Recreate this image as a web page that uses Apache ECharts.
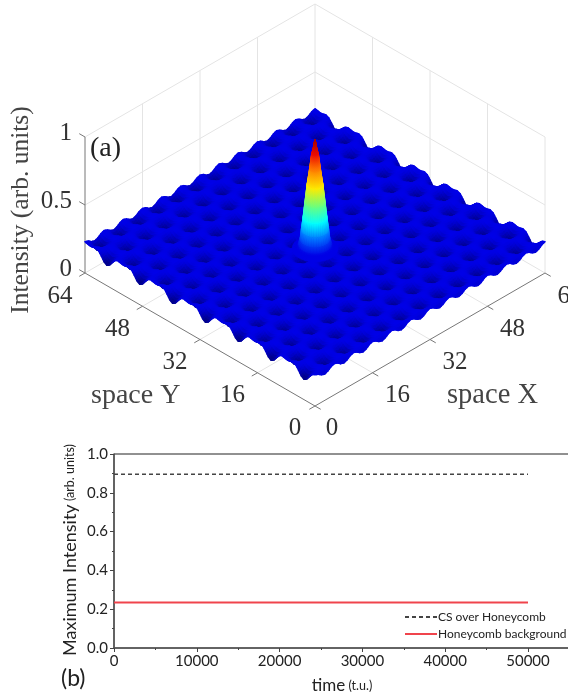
<!DOCTYPE html>
<html><head><meta charset="utf-8">
<style>html,body{margin:0;padding:0;background:#fff;overflow:hidden}#c{width:568px;height:700px;filter:blur(0.4px)}</style>
<script src="https://cdn.jsdelivr.net/npm/echarts@6/dist/echarts.min.js"></script>
</head><body><div id="c"></div>
<script>
// ---------- panel (a) values ----------
const spaceTicks = [0, 16, 32, 48, 64];
const intensityTicks = [0, 0.5, 1];
const gridTicks = [16, 32, 48];
// one repeat of the honeycomb background, intensity at 6 x 12 samples
const honeycombCell = [
  [.150,.168,.203,.221,.203,.168],
  [.164,.179,.210,.225,.210,.179],
  [.194,.203,.221,.230,.221,.203],
  [.221,.221,.221,.221,.221,.221],
  [.230,.221,.203,.194,.203,.221],
  [.225,.210,.179,.164,.179,.210],
  [.221,.203,.168,.150,.168,.203],
  [.225,.210,.179,.164,.179,.210],
  [.230,.221,.203,.194,.203,.221],
  [.221,.221,.221,.221,.221,.221],
  [.194,.203,.221,.230,.221,.203],
  [.164,.179,.210,.225,.210,.179]
];
const peakCentre = [32, 32];
const peakRadius = [0, .15, .35, .69, 1.1, 1.57, 2.0, 2.36, 2.7, 2.95, 3.3, 3.8, 4.5];
const peakHeight = [.985, .96, .92, .87, .76, .65, .52, .41, .32, .25, .21, .19, .18];
// ---------- panel (b) values ----------
const timeValues = [0, 50000];
const csValues = [0.895, 0.895];
const honeycombValues = [0.235, 0.235];

// ---------- projection of panel (a) onto hidden value axes ----------
const K = 65.45;
const proj = (x, y, z) => [x - y, x + y + z * K];
const cols = 72, rows = 84, offI = 3, offJ = 2, sub = 2;
const dx = 64 / cols, dy = 64 / rows;
const Hg = (i, j) => honeycombCell[(j + offJ + 1200) % 12][(i + offI + 600) % 6];
const vShade=(i,j)=>{
  const h=Hg(i,j);
  const a=(Hg(i+1,j)-Hg(i-1,j))/2/dx, b=(Hg(i,j+1)-Hg(i,j-1))/2/dy;
  const v=230-Math.max(0,(.215-h))*1600+(a+b)*250;
  return Math.min(232,Math.max(125,v));
};
const bil=(f,u,v)=>{const i=Math.floor(u),j=Math.floor(v),s=u-i,t=v-j;
  return f(i,j)*(1-s)*(1-t)+f(i+1,j)*s*(1-t)+f(i,j+1)*(1-s)*t+f(i+1,j+1)*s*t;};

const stops = [[0,[0,0,225]],[.2,[0,0,230]],[.3,[0,110,255]],[.41,[0,255,255]],[.53,[110,255,120]],[.65,[255,235,0]],[.78,[255,120,0]],[.88,[235,10,0]],[1,[150,0,0]]];
function jet(z){
  for(let k=1;k<stops.length;k++){ if(z<=stops[k][0]){
    const a=stops[k-1],b=stops[k],t=Math.max(0,(z-a[0])/(b[0]-a[0]));
    const c=a[1].map((v,n)=>Math.round(v+(b[1][n]-v)*t));
    return `rgb(${c})`; } }
  return 'rgb(150,0,0)';
}
// surface cells, far ones first
const cells=[];
for(let i=0;i<cols*sub;i++) for(let j=0;j<rows*sub;j++) cells.push([i,j]);
cells.sort((a,b)=>(b[0]*dx+b[1]*dy)-(a[0]*dx+a[1]*dy));
// peak mesh
const sectors=36, peakCells=[];
for(let k=0;k<peakRadius.length-1;k++) for(let m=0;m<sectors;m++) peakCells.push([k,m]);
const peakPt=(k,m)=>{const t=m/sectors*2*Math.PI;return [peakCentre[0]+peakRadius[k]*Math.cos(t),peakCentre[1]+peakRadius[k]*Math.sin(t),peakHeight[k]];};
const pk=(c)=>{const t=(c[1]+.5)/sectors*2*Math.PI,r=(peakRadius[c[0]]+peakRadius[c[0]+1])/2;return (Math.cos(t)+Math.sin(t))*r;};
peakCells.sort((a,b)=>pk(b)-pk(a));

// wall, floor and axis lines: [x1,y1,z1,x2,y2,z2,dark]
const lines=[];
gridTicks.forEach(t=>{
  lines.push([t,0,0,t,64,0,0],[0,t,0,64,t,0,0],[t,64,0,t,64,1,0],[64,t,0,64,t,1,0]);
});
[0,.5,1].forEach(z=>lines.push([0,64,z,64,64,z,0],[64,64,z,64,0,z,0]));
lines.push([64,64,0,64,64,1,0],[64,0,0,64,0,1,0]);
lines.push([0,0,0,64,0,0,1],[0,0,0,0,64,0,1],[0,64,0,0,64,1,1]);
spaceTicks.forEach(t=>lines.push([t,0,0,t,-1.6,0,1],[0,t,0,-1.6,t,0,1]));
intensityTicks.forEach(z=>lines.push([0,64,z,0,65.6,z,1]));

const chart=echarts.init(document.getElementById('c'),null,{renderer:'canvas',width:568,height:700});
const serif='"Liberation Serif"', sans='Lato';
const tickText=[];
spaceTicks.forEach(t=>{tickText.push([0,t,0,-25,23,String(t)]);tickText.push([t,0,0,25,23,String(t)]);});
tickText[0][3]=-20;tickText[1][3]=17;
tickText[0][4]=22;tickText[1][4]=22;

chart.setOption({
  animation:false,
  grid:[
    {left:85,width:460,top:4,height:402,outerBoundsMode:'none'},
    {left:114,width:460,top:454,height:194,show:true,borderColor:'#222',borderWidth:1,backgroundColor:'transparent',outerBoundsMode:'none'}
  ],
  xAxis:[
    {gridIndex:0,type:'value',min:-64,max:64,show:false},
    {gridIndex:1,type:'value',min:0,max:55556,interval:10000,
     axisLine:{show:true,onZero:false,lineStyle:{color:'#555',width:1.5}},
     axisTick:{show:true,length:4,lineStyle:{color:'#444'}},
     minorTick:{show:true,splitNumber:2,length:2,lineStyle:{color:'#444'}},
     splitLine:{show:false},
     axisLabel:{color:'#222',fontFamily:sans,fontSize:15,margin:6,formatter:v=>v%10000===0?String(v):''}}
  ],
  yAxis:[
    {gridIndex:0,type:'value',min:0,max:193.45,show:false},
    {gridIndex:1,type:'value',min:0,max:1,interval:.2,
     axisLine:{show:true,lineStyle:{color:'#555',width:1.5}},
     axisTick:{show:true,length:4,lineStyle:{color:'#444'}},
     minorTick:{show:true,splitNumber:2,length:2,lineStyle:{color:'#444'}},
     splitLine:{show:false},
     axisLabel:{color:'#222',fontFamily:sans,fontSize:15,margin:6,formatter:v=>v.toFixed(1)}}
  ],
  legend:{left:404,top:611,orient:'vertical',itemWidth:32,itemHeight:8,itemGap:5,padding:0,
    data:['CS over Honeycomb','Honeycomb background'],
    itemStyle:{color:'transparent',opacity:0},
    textStyle:{fontFamily:sans,fontSize:12,color:'#222',padding:[0,0,0,-4]}},
  graphic:[
    {type:'text',rotation:Math.PI/2,silent:true,x:21,y:210,
      style:{text:'Intensity (arb. units)',font:'25.5px '+serif,fill:'#444',align:'center',verticalAlign:'middle'}},
    {type:'text',x:90,y:135,style:{text:'(a)',font:'28px '+serif,fill:'#222'}},
    {type:'text',x:91,y:382,style:{text:'space Y',font:'28px '+serif,fill:'#444'}},
    {type:'text',x:447,y:381,style:{text:'space X',font:'28.5px '+serif,fill:'#444'}},
    {type:'text',x:61,y:667,style:{text:'(b)',font:'23px '+sans,fill:'#222'}},
    {type:'text',x:70,y:550,rotation:Math.PI/2,
      style:{text:'{a|Maximum Intensity} {b|(arb. units)}',align:'center',verticalAlign:'middle',
        rich:{a:{font:'18px '+sans,fill:'#222'},b:{font:'12.5px '+sans,fill:'#222'}}}},
    {type:'text',x:342,y:686,
      style:{text:'{a|time} {b|(t.u.)}',align:'center',verticalAlign:'middle',
        rich:{a:{font:'17px '+sans,fill:'#222'},b:{font:'12.5px '+sans,fill:'#222'}}}}
  ],
  series:[
    {type:'custom',name:'lines',coordinateSystem:'cartesian2d',xAxisIndex:0,yAxisIndex:0,silent:true,clip:false,
     data:lines.map((l,n)=>[n,0]),encode:{x:0,y:1},
     renderItem:(p,api)=>{const l=lines[p.dataIndex];
       const a=api.coord(proj(l[0],l[1],l[2])),b=api.coord(proj(l[3],l[4],l[5]));
       return {type:'line',shape:{x1:a[0],y1:a[1],x2:b[0],y2:b[1]},
         style:{stroke:l[6]?'#777':'#e4e4e4',lineWidth:1}};}},
    {type:'custom',name:'surface',coordinateSystem:'cartesian2d',xAxisIndex:0,yAxisIndex:0,silent:true,clip:false,
     progressive:0,data:cells,encode:{x:0,y:1},
     renderItem:(p,api)=>{const c=cells[p.dataIndex],i=c[0]/sub,j=c[1]/sub,h=1/sub;
       const pts=[[i,j],[i+h,j],[i+h,j+h],[i,j+h]].map(q=>api.coord(proj(q[0]*dx,q[1]*dy,bil(Hg,q[0],q[1]))));
       const b=Math.round(bil(vShade,i+h/2,j+h/2));
       const col=`rgb(0,0,${b})`;
       return {type:'polygon',shape:{points:pts},style:{fill:col,stroke:col,lineWidth:1.6,lineJoin:'round'}};}},
    {type:'custom',name:'peak',coordinateSystem:'cartesian2d',xAxisIndex:0,yAxisIndex:0,silent:true,clip:false,
     progressive:0,data:peakCells,encode:{x:0,y:1},
     renderItem:(p,api)=>{const c=peakCells[p.dataIndex],k=c[0],m=c[1];
       const pts=[peakPt(k,m),peakPt(k,m+1),peakPt(k+1,m+1),peakPt(k+1,m)].map(q=>api.coord(proj(q[0],q[1],q[2])));
       const zt=peakHeight[k],zb=peakHeight[k+1],st=[];
       for(let n=0;n<=4;n++)st.push({offset:n/4,color:jet(zt+(zb-zt)*n/4)});
       const g=new echarts.graphic.LinearGradient(0,0,0,1,st);
       return {type:'polygon',shape:{points:pts},style:{fill:g,stroke:g,lineWidth:.6}};}},
    {type:'custom',name:'tickText',coordinateSystem:'cartesian2d',xAxisIndex:0,yAxisIndex:0,silent:true,clip:false,
     data:tickText.map((t,n)=>[n,0]),encode:{x:0,y:1},
     renderItem:(p,api)=>{const t=tickText[p.dataIndex],a=api.coord(proj(t[0],t[1],t[2]));
       return {type:'text',x:a[0]+t[3],y:a[1]+t[4],style:{text:t[5],font:'25px '+serif,fill:'#333',align:'center',verticalAlign:'middle'}};}},
    {type:'custom',name:'zText',coordinateSystem:'cartesian2d',xAxisIndex:0,yAxisIndex:0,silent:true,clip:false,
     data:intensityTicks.map((t,n)=>[n,0]),encode:{x:0,y:1},
     renderItem:(p,api)=>{const z=intensityTicks[p.dataIndex],a=api.coord(proj(0,64,z));
       return {type:'text',x:a[0]-13,y:a[1]-4,style:{text:String(z),font:'25px '+serif,fill:'#333',align:'right',verticalAlign:'middle'}};}},
    {type:'line',name:'CS over Honeycomb',xAxisIndex:1,yAxisIndex:1,symbol:'none',silent:true,
     data:timeValues.map((t,n)=>[t,csValues[n]]),lineStyle:{color:'#444',width:1.5,type:[4,3]},itemStyle:{color:'#444'}},
    {type:'line',name:'Honeycomb background',xAxisIndex:1,yAxisIndex:1,symbol:'none',silent:true,
     data:timeValues.map((t,n)=>[t,honeycombValues[n]]),lineStyle:{color:'#f0444c',width:2},itemStyle:{color:'#f0444c'}}
  ]
});
</script></body></html>
